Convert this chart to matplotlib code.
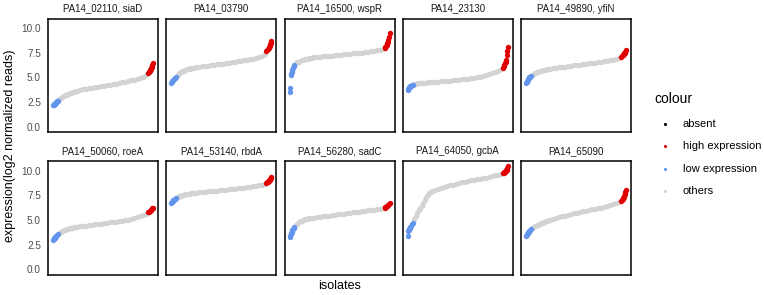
import matplotlib
matplotlib.use("Agg")
import matplotlib.pyplot as plt

plt.rcParams["font.family"] = ["Liberation Sans", "DejaVu Sans"]

W, H = 764, 295

panel_titles = ["PA14_02110, siaD", "PA14_03790", "PA14_16500, wspR", "PA14_23130", "PA14_49890, yfiN",
                "PA14_50060, roeA", "PA14_53140, rbdA", "PA14_56280, sadC", "PA14_64050, gcbA", "PA14_65090"]

# rank of each sampled isolate (sorted by expression, 400 isolates per gene)
ranks = [1, 3, 5, 7, 9, 11, 14, 17, 20,
         26, 32, 38, 44, 50, 56, 62, 68, 74, 80, 86, 92, 98,
         110, 122, 134, 146, 158, 170, 182, 194, 206, 218, 230, 242, 254, 266, 278, 290, 302, 314, 326, 338,
         350, 362, 374,
         381, 384, 387, 390, 392, 394, 396, 398, 400]
n_isolates = 400
low_cut = 20     # ranks <= low_cut -> low expression
high_cut = 381   # ranks >= high_cut -> high expression

pa14_02110 = [2.2, 2.25, 2.3, 2.35, 2.4, 2.45, 2.52, 2.58, 2.65,
              2.82, 2.93, 3.03, 3.12, 3.2, 3.27, 3.34, 3.4, 3.46, 3.52, 3.57, 3.61, 3.65,
              3.73, 3.8, 3.86, 3.92, 3.98, 4.03, 4.08, 4.13, 4.18, 4.23, 4.28, 4.33, 4.38, 4.44, 4.5, 4.56,
              4.63, 4.7, 4.78, 4.87, 4.97, 5.09, 5.25,
              5.45, 5.55, 5.65, 5.75, 5.85, 5.95, 6.1, 6.3, 6.5]
pa14_03790 = [4.4, 4.5, 4.6, 4.7, 4.78, 4.85, 4.92, 4.98, 5.05,
              5.28, 5.42, 5.53, 5.62, 5.7, 5.76, 5.81, 5.86, 5.9, 5.94, 5.97, 6.0, 6.03,
              6.08, 6.13, 6.17, 6.21, 6.25, 6.29, 6.33, 6.37, 6.41, 6.45, 6.49, 6.53, 6.57, 6.62, 6.67, 6.72,
              6.78, 6.84, 6.91, 6.99, 7.08, 7.2, 7.38,
              7.7, 7.8, 7.9, 8.0, 8.1, 8.2, 8.35, 8.5, 8.7]
pa14_16500 = [3.5, 3.9, 5.2, 5.4, 5.6, 5.8, 6.0, 6.15, 6.3,
              6.45, 6.53, 6.6, 6.67, 6.73, 6.79, 6.84, 6.88, 6.92, 6.95, 6.98, 7.01, 7.03,
              7.07, 7.1, 7.13, 7.16, 7.19, 7.22, 7.25, 7.28, 7.31, 7.34, 7.37, 7.4, 7.43, 7.46, 7.49, 7.53,
              7.57, 7.61, 7.65, 7.7, 7.75, 7.81, 7.88,
              8.0, 8.1, 8.2, 8.3, 8.45, 8.6, 8.8, 9.1, 9.5]
pa14_23130 = [3.7, 3.8, 3.9, 4.0, 4.07, 4.13, 4.18, 4.22, 4.27,
              4.33, 4.36, 4.39, 4.41, 4.43, 4.45, 4.46, 4.48, 4.49, 4.5, 4.52, 4.53, 4.54,
              4.56, 4.59, 4.61, 4.64, 4.66, 4.69, 4.72, 4.75, 4.78, 4.81, 4.85, 4.89, 4.93, 4.97, 5.02, 5.08,
              5.15, 5.22, 5.31, 5.41, 5.53, 5.67, 5.85,
              6.0, 6.15, 6.3, 6.45, 6.6, 6.8, 7.3, 7.65, 8.1]
pa14_49890 = [4.45, 4.55, 4.65, 4.75, 4.85, 4.93, 5.0, 5.08, 5.15,
              5.3, 5.38, 5.45, 5.52, 5.58, 5.63, 5.67, 5.71, 5.75, 5.79, 5.82, 5.85, 5.88,
              5.93, 5.98, 6.02, 6.06, 6.1, 6.14, 6.18, 6.22, 6.26, 6.3, 6.34, 6.38, 6.42, 6.46, 6.5, 6.54,
              6.58, 6.63, 6.68, 6.73, 6.8, 6.87, 6.96,
              7.1, 7.17, 7.24, 7.3, 7.37, 7.44, 7.52, 7.6, 7.75]
pa14_50060 = [3.0, 3.07, 3.13, 3.2, 3.27, 3.33, 3.4, 3.47, 3.55,
              3.72, 3.82, 3.9, 3.97, 4.02, 4.07, 4.11, 4.15, 4.18, 4.21, 4.24, 4.27, 4.29,
              4.34, 4.39, 4.43, 4.47, 4.51, 4.55, 4.59, 4.63, 4.67, 4.71, 4.75, 4.79, 4.83, 4.88, 4.93, 4.98,
              5.04, 5.11, 5.18, 5.27, 5.38, 5.5, 5.64,
              5.8, 5.85, 5.9, 5.95, 6.0, 6.05, 6.1, 6.17, 6.25]
pa14_53140 = [6.75, 6.8, 6.86, 6.92, 6.98, 7.04, 7.1, 7.16, 7.22,
              7.32, 7.4, 7.46, 7.51, 7.55, 7.59, 7.62, 7.65, 7.67, 7.7, 7.72, 7.74, 7.76,
              7.8, 7.83, 7.86, 7.89, 7.92, 7.95, 7.98, 8.01, 8.04, 8.07, 8.1, 8.13, 8.16, 8.19, 8.23, 8.27,
              8.31, 8.35, 8.4, 8.45, 8.51, 8.58, 8.66,
              8.75, 8.82, 8.88, 8.94, 9.0, 9.07, 9.15, 9.25, 9.4]
pa14_56280 = [3.25, 3.4, 3.55, 3.7, 3.82, 3.95, 4.08, 4.2, 4.32,
              4.5, 4.64, 4.76, 4.86, 4.94, 5.0, 5.05, 5.09, 5.13, 5.16, 5.19, 5.22, 5.24,
              5.28, 5.33, 5.37, 5.41, 5.45, 5.49, 5.53, 5.57, 5.61, 5.65, 5.69, 5.73, 5.77, 5.81, 5.85, 5.89,
              5.93, 5.97, 6.01, 6.06, 6.11, 6.16, 6.21,
              6.25, 6.3, 6.35, 6.4, 6.45, 6.5, 6.56, 6.62, 6.7]
pa14_64050 = [3.38, 3.9, 4.0, 4.1, 4.2, 4.3, 4.42, 4.55, 4.68,
              5.1, 5.4, 5.7, 6.0, 6.25, 6.45, 6.7, 7.0, 7.3, 7.52, 7.7, 7.82, 7.92,
              8.05, 8.16, 8.26, 8.35, 8.44, 8.52, 8.59, 8.66, 8.73, 8.8, 8.87, 8.94, 9.0, 9.06, 9.12, 9.18,
              9.24, 9.3, 9.37, 9.44, 9.51, 9.59, 9.68,
              9.75, 9.8, 9.85, 9.9, 9.95, 10.02, 10.1, 10.25, 10.5]
pa14_65090 = [3.4, 3.5, 3.58, 3.66, 3.74, 3.82, 3.9, 3.98, 4.05,
              4.15, 4.27, 4.37, 4.46, 4.54, 4.61, 4.68, 4.74, 4.8, 4.86, 4.91, 4.96, 5.01,
              5.1, 5.19, 5.28, 5.36, 5.44, 5.52, 5.59, 5.66, 5.73, 5.8, 5.87, 5.94, 6.01, 6.08, 6.14, 6.2,
              6.26, 6.33, 6.4, 6.48, 6.57, 6.67, 6.8,
              6.95, 7.05, 7.15, 7.25, 7.35, 7.45, 7.6, 7.8, 8.05]

panel_values = [pa14_02110, pa14_03790, pa14_16500, pa14_23130, pa14_49890,
                pa14_50060, pa14_53140, pa14_56280, pa14_64050, pa14_65090]

legend_labels = ["absent", "high expression", "low expression", "others"]
legend_colours = ["black", "#E00000", "#6495ED", "#D3D3D3"]
group_colour = dict(zip(legend_labels, legend_colours))

y_ticks = [0, 2.5, 5, 7.5, 10]
y_tick_labels = ["0.0", "2.5", "5.0", "7.5", "10.0"]

fig = plt.figure(figsize=(W / 100, H / 100), dpi=100)

panel_w, panel_h = 110, 113.5
lefts = [48 + i * 118.25 for i in range(5)]
tops = [18.5, 161.0]
pad = 0.05 * (n_isolates - 1)

for k, values in enumerate(panel_values):
    row, col = divmod(k, 5)
    ax = fig.add_axes([lefts[col] / W, 1 - (tops[row] + panel_h) / H, panel_w / W, panel_h / H])
    groups = ["low expression" if r <= low_cut else "high expression" if r >= high_cut else "others"
              for r in ranks]
    for g in ["others", "low expression", "high expression"]:
        xs = [r for r, gg in zip(ranks, groups) if gg == g]
        ys = [v for v, gg in zip(values, groups) if gg == g]
        ax.scatter(xs, ys, s=15, color=group_colour[g], linewidths=0, zorder=2)
    ax.set_xlim(1 - pad, n_isolates + pad)
    ax.set_ylim(-0.525, 10.975)
    ax.set_xticks([])
    ax.set_yticks(y_ticks)
    if col == 0:
        ax.set_yticklabels(y_tick_labels, fontsize=7.2, color="#4D4D4D")
    else:
        ax.set_yticklabels([])
    ax.tick_params(axis="y", length=0, pad=5)
    for sp in ax.spines.values():
        sp.set_linewidth(1.1)
        sp.set_color("black")
    ax.text(0.5, 1 + 10 / panel_h, panel_titles[k], transform=ax.transAxes,
            ha="center", va="center", fontsize=7, color="#1A1A1A")

fig.text(10 / W, 1 - 146 / H, "expression(log2 normalized reads)", rotation=90,
         ha="center", va="center", fontsize=9)
fig.text(339.5 / W, 1 - 286 / H, "isolates", ha="center", va="center", fontsize=9)

# legend drawn on an overlay in pixel coordinates
lax = fig.add_axes([0, 0, 1, 1])
lax.set_xlim(0, W)
lax.set_ylim(H, 0)
lax.axis("off")
lax.text(654, 99, "colour", ha="left", va="center", fontsize=10)
for i, (lab, colr) in enumerate(zip(legend_labels, legend_colours)):
    y = 124 + i * 22.4
    lax.scatter([664.5], [y], s=5, color=colr, linewidths=0)
    lax.text(682.7, y, lab, ha="left", va="center", fontsize=8)

fig.savefig("out.png", dpi=100)
